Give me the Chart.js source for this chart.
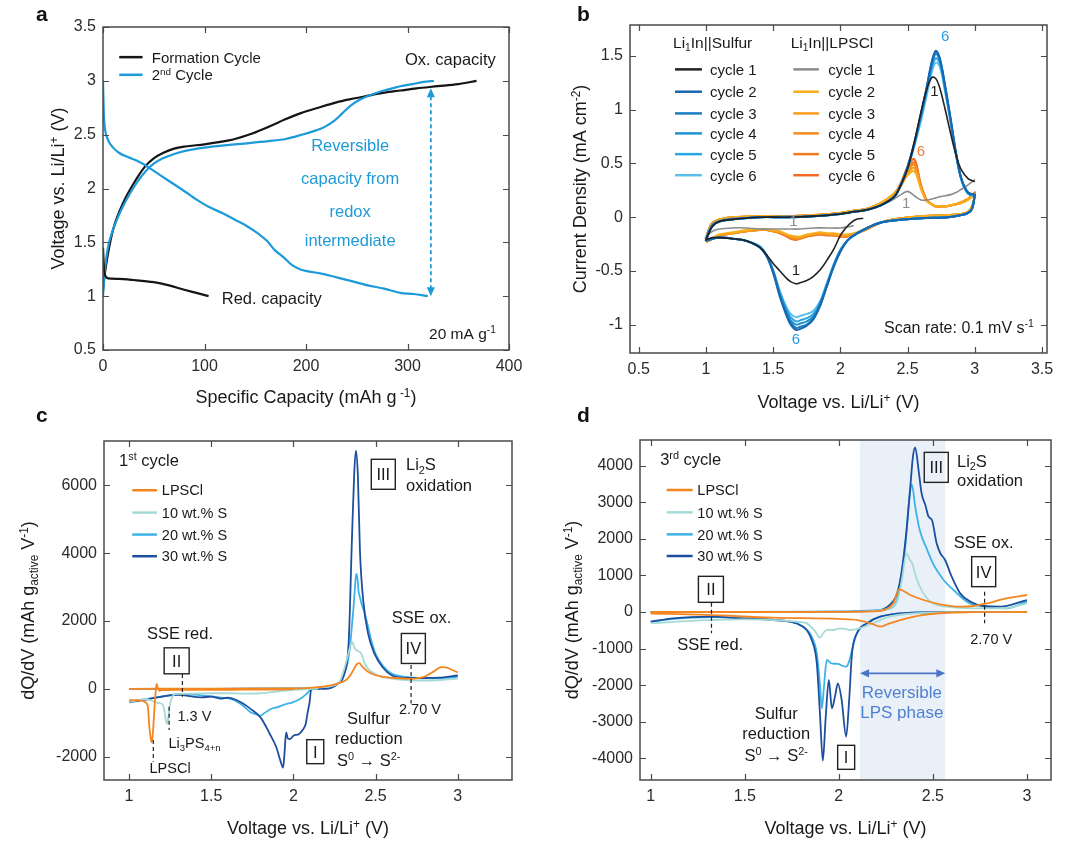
<!DOCTYPE html>
<html>
<head>
<meta charset="utf-8">
<script src="https://cdn.jsdelivr.net/npm/chart.js@4.4.1/dist/chart.umd.min.js"></script>
<style>
  html, body { margin: 0; padding: 0; background: #fff; }
  #fig { position: relative; width: 1080px; height: 849px; overflow: hidden; background: #fff; }
  canvas { position: absolute; }
  .lab { position: absolute; font: bold 21px "Liberation Sans", Arial, sans-serif; color: #111; }
</style>
</head>
<body>
<div id="fig">
  <canvas id="pa" width="540" height="420" style="left:0;top:0"></canvas>
  <canvas id="pb" width="540" height="420" style="left:540px;top:0"></canvas>
  <canvas id="pc" width="540" height="429" style="left:0;top:420px"></canvas>
  <canvas id="pd" width="540" height="429" style="left:540px;top:420px"></canvas>
  <div class="lab" style="left:36px;top:2px">a</div>
  <div class="lab" style="left:577px;top:2px">b</div>
  <div class="lab" style="left:36px;top:403px">c</div>
  <div class="lab" style="left:577px;top:403px">d</div>
</div>
<script>
const F = '"Liberation Sans", Arial, sans-serif';
Chart.defaults.font.family = F;

// ---------- panel a : voltage profiles ----------
const aXTicks = [0, 100, 200, 300, 400];
const aYTicks = [0.5, 1, 1.5, 2, 2.5, 3, 3.5];
const aFormRedCap = [0, 1, 3, 5, 15, 30, 50, 65, 80, 92, 104];
const aFormRedV = [1.45, 1.25, 1.18, 1.165, 1.16, 1.15, 1.13, 1.1, 1.06, 1.03, 1.0];
const aFormOxCap = [0, 2, 5, 10, 20, 33, 42, 50, 59, 70, 81, 100, 114, 130, 147, 165, 179, 195, 212, 230, 244, 260, 277, 293, 309, 330, 350, 368];
const aFormOxV = [1.05, 1.22, 1.4, 1.62, 1.87, 2.09, 2.21, 2.28, 2.33, 2.37, 2.39, 2.41, 2.43, 2.46, 2.51, 2.58, 2.64, 2.7, 2.75, 2.8, 2.83, 2.86, 2.89, 2.91, 2.93, 2.95, 2.97, 3.0];
const aSecOxCap = [0, 1, 3, 6, 10, 15, 20, 27, 33, 42, 50, 59, 70, 81, 100, 130, 163, 180, 196, 210, 218, 228, 236, 244, 252, 261, 270, 277, 285, 293, 305, 316, 326];
const aSecOxV = [1.0, 1.15, 1.34, 1.5, 1.62, 1.74, 1.84, 1.96, 2.05, 2.16, 2.23, 2.28, 2.32, 2.35, 2.38, 2.41, 2.44, 2.46, 2.5, 2.54, 2.57, 2.63, 2.7, 2.77, 2.82, 2.86, 2.89, 2.91, 2.93, 2.95, 2.97, 2.99, 3.0];
const aSecRedCap = [0, 0.5, 1, 2, 5, 10, 16, 25, 33, 41, 49, 57, 65, 81, 95, 104, 118, 130, 142, 153, 162, 169, 178, 186, 194, 202, 215, 228, 245, 261, 277, 293, 306, 320];
const aSecRedV = [3.0, 2.8, 2.66, 2.55, 2.45, 2.38, 2.33, 2.29, 2.26, 2.22, 2.17, 2.12, 2.07, 1.97, 1.88, 1.83, 1.77, 1.71, 1.65, 1.58, 1.51, 1.43, 1.36, 1.29, 1.25, 1.23, 1.21, 1.18, 1.14, 1.1, 1.07, 1.03, 1.02, 1.0];

// ---------- panel b : cyclic voltammetry ----------
const bXTicks = [0.5, 1, 1.5, 2, 2.5, 3, 3.5];
const bYTicks = [-1, -0.5, 0, 0.5, 1, 1.5];
const bAnoV = [1.0, 1.02, 1.05, 1.1, 1.2, 1.4, 1.6, 1.8, 2.0, 2.1, 2.2, 2.3, 2.4, 2.45, 2.5, 2.55, 2.6, 2.64, 2.68, 2.71, 2.74, 2.78, 2.82, 2.86, 2.9, 2.95, 3.0];
const bCathV = [3.0, 2.98, 2.95, 2.9, 2.8, 2.6, 2.4, 2.3, 2.2, 2.1, 2.05, 2.0, 1.95, 1.9, 1.85, 1.8, 1.75, 1.7, 1.67, 1.63, 1.6, 1.55, 1.5, 1.45, 1.4, 1.3, 1.2, 1.1, 1.05, 1.02, 1.0];
const bS1CathV = [2.17, 2.12, 2.08, 2.04, 2.0, 1.95, 1.9, 1.85, 1.8, 1.75, 1.7, 1.67, 1.63, 1.6, 1.55, 1.5, 1.45, 1.4, 1.3, 1.2, 1.1, 1.05, 1.02, 1.0];
const bS1CathI = [-0.01, -0.02, -0.05, -0.1, -0.17, -0.3, -0.4, -0.49, -0.55, -0.59, -0.61, -0.62, -0.6, -0.57, -0.5, -0.43, -0.35, -0.28, -0.22, -0.2, -0.19, -0.19, -0.2, -0.21];
const bS1AnoI = [-0.21, -0.15, -0.08, -0.04, -0.02, 0.0, 0.0, 0.01, 0.03, 0.05, 0.07, 0.11, 0.19, 0.3, 0.45, 0.7, 0.98, 1.18, 1.3, 1.29, 1.2, 1.0, 0.78, 0.58, 0.44, 0.36, 0.33];
const bS2AnoI = [-0.22, -0.15, -0.08, -0.04, -0.02, 0.0, 0.0, 0.01, 0.03, 0.05, 0.07, 0.11, 0.19, 0.3, 0.47, 0.69, 0.97, 1.2, 1.45, 1.55, 1.48, 1.22, 0.92, 0.6, 0.36, 0.23, 0.21];
const bS3AnoI = [-0.22, -0.15, -0.08, -0.04, -0.02, 0.0, 0.0, 0.01, 0.03, 0.05, 0.07, 0.11, 0.19, 0.3, 0.47, 0.69, 0.96, 1.19, 1.44, 1.54, 1.47, 1.21, 0.91, 0.6, 0.36, 0.23, 0.21];
const bS4AnoI = [-0.22, -0.15, -0.08, -0.04, -0.02, 0.0, 0.0, 0.01, 0.03, 0.05, 0.07, 0.11, 0.19, 0.3, 0.46, 0.68, 0.95, 1.18, 1.42, 1.52, 1.46, 1.2, 0.9, 0.59, 0.35, 0.22, 0.2];
const bS5AnoI = [-0.22, -0.15, -0.08, -0.04, -0.02, 0.0, 0.0, 0.01, 0.03, 0.05, 0.07, 0.11, 0.19, 0.3, 0.46, 0.67, 0.93, 1.16, 1.39, 1.48, 1.43, 1.18, 0.89, 0.58, 0.35, 0.22, 0.2];
const bS6AnoI = [-0.22, -0.15, -0.08, -0.04, -0.02, 0.0, 0.0, 0.01, 0.03, 0.05, 0.07, 0.11, 0.19, 0.3, 0.45, 0.66, 0.9, 1.12, 1.35, 1.44, 1.4, 1.16, 0.88, 0.58, 0.35, 0.22, 0.2];
const bS2CathI = [0.21, 0.08, 0.04, 0.02, 0.0, -0.01, -0.03, -0.05, -0.1, -0.17, -0.22, -0.32, -0.46, -0.64, -0.82, -0.95, -1.01, -1.04, -1.05, -1.0, -0.92, -0.74, -0.52, -0.36, -0.28, -0.22, -0.2, -0.19, -0.2, -0.21, -0.22];
const bS3CathI = [0.21, 0.08, 0.04, 0.02, 0.0, -0.01, -0.03, -0.05, -0.1, -0.17, -0.22, -0.32, -0.46, -0.64, -0.82, -0.94, -1.0, -1.02, -1.03, -0.98, -0.9, -0.73, -0.51, -0.36, -0.28, -0.22, -0.2, -0.19, -0.2, -0.21, -0.22];
const bS4CathI = [0.2, 0.08, 0.04, 0.02, 0.0, -0.01, -0.03, -0.05, -0.1, -0.17, -0.22, -0.31, -0.45, -0.63, -0.8, -0.92, -0.97, -0.99, -1.0, -0.96, -0.88, -0.72, -0.5, -0.35, -0.28, -0.22, -0.2, -0.19, -0.2, -0.21, -0.22];
const bS5CathI = [0.2, 0.08, 0.04, 0.02, 0.0, -0.01, -0.03, -0.05, -0.1, -0.17, -0.22, -0.31, -0.45, -0.62, -0.79, -0.9, -0.94, -0.96, -0.97, -0.93, -0.86, -0.7, -0.5, -0.35, -0.27, -0.22, -0.2, -0.19, -0.2, -0.21, -0.22];
const bS6CathI = [0.2, 0.08, 0.04, 0.02, 0.0, -0.01, -0.03, -0.05, -0.1, -0.17, -0.22, -0.3, -0.44, -0.61, -0.78, -0.87, -0.9, -0.92, -0.93, -0.9, -0.84, -0.69, -0.49, -0.35, -0.27, -0.22, -0.2, -0.19, -0.2, -0.21, -0.22];
const bL1CathV = [2.1, 2.0, 1.9, 1.8, 1.7, 1.6, 1.5, 1.4, 1.3, 1.2, 1.1, 1.05, 1.02, 1.0];
const bL1CathI = [-0.08, -0.1, -0.1, -0.1, -0.11, -0.11, -0.11, -0.11, -0.1, -0.1, -0.11, -0.13, -0.16, -0.18];
const bL1AnoI = [-0.18, -0.12, -0.06, -0.03, -0.01, 0.0, 0.01, 0.01, 0.03, 0.05, 0.07, 0.11, 0.17, 0.21, 0.24, 0.2, 0.16, 0.16, 0.17, 0.18, 0.19, 0.2, 0.21, 0.23, 0.26, 0.3, 0.35];
const bL2AnoI = [-0.22, -0.12, -0.05, -0.02, 0.0, 0.01, 0.01, 0.02, 0.04, 0.06, 0.08, 0.13, 0.22, 0.29, 0.39, 0.43, 0.26, 0.15, 0.12, 0.1, 0.1, 0.1, 0.11, 0.12, 0.13, 0.16, 0.21];
const bL3AnoI = [-0.22, -0.12, -0.05, -0.02, 0.0, 0.01, 0.01, 0.02, 0.04, 0.06, 0.08, 0.13, 0.22, 0.3, 0.41, 0.46, 0.27, 0.16, 0.12, 0.1, 0.1, 0.1, 0.11, 0.12, 0.14, 0.17, 0.22];
const bL4AnoI = [-0.22, -0.12, -0.05, -0.02, 0.0, 0.01, 0.01, 0.02, 0.04, 0.06, 0.08, 0.13, 0.22, 0.3, 0.43, 0.49, 0.28, 0.16, 0.12, 0.1, 0.1, 0.1, 0.11, 0.12, 0.14, 0.17, 0.22];
const bL5AnoI = [-0.22, -0.12, -0.05, -0.02, 0.0, 0.01, 0.01, 0.02, 0.04, 0.06, 0.08, 0.13, 0.22, 0.31, 0.45, 0.51, 0.29, 0.16, 0.12, 0.1, 0.1, 0.1, 0.11, 0.12, 0.14, 0.17, 0.23];
const bL6AnoI = [-0.22, -0.12, -0.05, -0.02, 0.0, 0.01, 0.01, 0.02, 0.04, 0.06, 0.08, 0.13, 0.22, 0.32, 0.47, 0.54, 0.3, 0.17, 0.12, 0.1, 0.1, 0.1, 0.11, 0.12, 0.14, 0.17, 0.23];
const bL2CathI = [0.2, 0.1, 0.05, 0.03, 0.02, 0.01, -0.02, -0.05, -0.1, -0.15, -0.16, -0.16, -0.15, -0.15, -0.14, -0.15, -0.16, -0.18, -0.18, -0.17, -0.16, -0.13, -0.12, -0.11, -0.11, -0.12, -0.14, -0.16, -0.19, -0.21, -0.22];
const bL3CathI = [0.2, 0.1, 0.05, 0.03, 0.02, 0.01, -0.02, -0.05, -0.11, -0.16, -0.17, -0.17, -0.16, -0.16, -0.15, -0.16, -0.17, -0.19, -0.19, -0.18, -0.16, -0.14, -0.13, -0.12, -0.12, -0.13, -0.15, -0.17, -0.2, -0.22, -0.23];
const bL4CathI = [0.21, 0.1, 0.05, 0.03, 0.02, 0.01, -0.02, -0.05, -0.11, -0.16, -0.17, -0.17, -0.16, -0.16, -0.15, -0.16, -0.17, -0.19, -0.2, -0.19, -0.17, -0.14, -0.13, -0.12, -0.12, -0.13, -0.15, -0.17, -0.2, -0.22, -0.23];
const bL5CathI = [0.21, 0.1, 0.05, 0.03, 0.02, 0.01, -0.02, -0.05, -0.11, -0.16, -0.18, -0.18, -0.17, -0.16, -0.16, -0.16, -0.18, -0.2, -0.21, -0.2, -0.17, -0.14, -0.13, -0.12, -0.12, -0.13, -0.15, -0.17, -0.2, -0.22, -0.23];
const bL6CathI = [0.22, 0.1, 0.05, 0.03, 0.02, 0.01, -0.02, -0.05, -0.11, -0.16, -0.18, -0.18, -0.17, -0.17, -0.16, -0.17, -0.18, -0.2, -0.21, -0.2, -0.18, -0.15, -0.13, -0.12, -0.12, -0.13, -0.15, -0.17, -0.2, -0.22, -0.23];
const bSulfurColors = ['#222222', '#1767b2', '#1a7cc2', '#1f92d2', '#28a8e2', '#5cc0ef'];
const bLpsclColors = ['#8c8c8c', '#f8ad1c', '#f79c1d', '#f58a1f', '#f37a20', '#f16a22'];
const bCycleLabels = ['cycle 1', 'cycle 2', 'cycle 3', 'cycle 4', 'cycle 5', 'cycle 6'];

// ---------- panels c, d : dQ/dV ----------
const cdSeries = ['LPSCl', '10 wt.% S', '20 wt.% S', '30 wt.% S'];
const cdColors = ['#f5861f', '#a6dad6', '#3cb2e8', '#1d4f9e'];
const cXTicks = [1, 1.5, 2, 2.5, 3];
const cYTicks = [-2000, 0, 2000, 4000, 6000];
const cLpsRedV = [1.0, 1.04, 1.07, 1.1, 1.115, 1.124, 1.132, 1.138, 1.145, 1.152, 1.158, 1.163, 1.168, 1.173, 1.178, 1.185, 1.2, 1.3, 1.5, 1.7, 1.9, 2.0];
const cLpsRedQ = [-340, -330, -345, -395, -540, -1130, -1450, -1580, -1330, -800, -345, -50, 148, 60, 0, -60, -40, -30, -30, -25, -20, -10];
const cLpsOxV = [1.0, 1.5, 2.0, 2.1, 2.2, 2.26, 2.3, 2.33, 2.35, 2.37, 2.38, 2.39, 2.4, 2.42, 2.45, 2.5, 2.55, 2.6, 2.7, 2.75, 2.8, 2.85, 2.9, 2.93, 2.96, 3.0];
const cLpsOxQ = [0, 5, 10, 30, 80, 147, 200, 300, 430, 600, 690, 740, 755, 650, 520, 400, 350, 324, 295, 310, 363, 500, 638, 630, 570, 480];
const c10RedV = [1.0, 1.05, 1.1, 1.15, 1.18, 1.2, 1.21, 1.22, 1.228, 1.233, 1.24, 1.25, 1.26, 1.27, 1.3, 1.4, 1.5, 1.6, 1.7, 1.8, 1.9, 2.0, 2.1, 2.15];
const c10RedQ = [-390, -340, -300, -370, -420, -440, -520, -800, -1000, -1030, -820, -450, -280, -180, -150, -140, -130, -130, -140, -130, -80, -30, -5, 0];
const c10OxV = [1.0, 1.5, 2.0, 2.2, 2.28, 2.31, 2.33, 2.345, 2.356, 2.365, 2.375, 2.39, 2.41, 2.435, 2.465, 2.52, 2.6, 2.7, 2.8, 2.9, 3.0];
const c10OxQ = [0, 0, 10, 60, 200, 600, 950, 1230, 1390, 1300, 1180, 1120, 1060, 740, 540, 390, 300, 250, 240, 260, 300];
const c20RedV = [1.0, 1.07, 1.17, 1.27, 1.31, 1.46, 1.56, 1.62, 1.68, 1.74, 1.78, 1.8, 1.82, 1.86, 1.9, 1.95, 2.0, 2.04, 2.075, 2.1, 2.12];
const c20RedQ = [-395, -325, -250, -170, -150, -200, -260, -300, -445, -690, -760, -790, -730, -600, -545, -460, -390, -300, -170, -50, 0];
const c20OxV = [1.0, 1.5, 2.0, 2.2, 2.27, 2.317, 2.335, 2.346, 2.356, 2.366, 2.375, 2.382, 2.39, 2.396, 2.405, 2.415, 2.435, 2.455, 2.474, 2.5, 2.543, 2.6, 2.67, 2.75, 2.85, 2.95, 3.0];
const c20OxQ = [0, 0, 10, 60, 150, 540, 900, 1325, 1850, 2400, 3000, 3386, 3250, 2895, 2700, 2500, 2208, 1815, 1423, 1030, 687, 441, 363, 320, 310, 330, 360];
const c30RedV = [1.0, 1.1, 1.17, 1.3, 1.44, 1.5, 1.56, 1.6, 1.66, 1.74, 1.8, 1.857, 1.897, 1.92, 1.938, 1.946, 1.956, 1.966, 1.98, 2.0, 2.035, 2.056, 2.075, 2.086, 2.1, 2.107, 2.12, 2.16];
const c30RedQ = [-395, -320, -250, -180, -250, -230, -290, -260, -345, -590, -840, -1330, -1730, -2100, -2320, -1900, -1284, -1460, -1480, -1380, -1330, -1214, -1037, -723, -345, -40, -10, 0];
const c30OxV = [1.0, 1.5, 2.0, 2.19, 2.27, 2.31, 2.337, 2.356, 2.37, 2.38, 2.392, 2.405, 2.425, 2.455, 2.494, 2.543, 2.6, 2.67, 2.78, 2.88, 3.0];
const c30OxQ = [0, 0, 5, 0, 147, 440, 1423, 4368, 6330, 7018, 6330, 4073, 2600, 1620, 1030, 638, 393, 324, 320, 330, 393];

const dXTicks = [1, 1.5, 2, 2.5, 3];
const dYTicks = [-4000, -3000, -2000, -1000, 0, 1000, 2000, 3000, 4000];
const dLpsRedV = [1.0, 1.3, 1.65, 2.0, 2.1, 2.17, 2.22, 2.27, 2.36, 2.45, 2.57, 2.7, 3.0];
const dLpsRedQ = [-40, -80, -155, -190, -220, -310, -400, -310, -173, -80, -20, -5, 0];
const dLpsOxV = [1.0, 1.5, 2.0, 2.18, 2.25, 2.29, 2.32, 2.38, 2.45, 2.54, 2.645, 2.716, 2.787, 2.89, 3.0];
const dLpsOxQ = [0, 0, 5, 18, 73, 237, 620, 465, 328, 210, 146, 164, 237, 374, 465];
const d10RedV = [1.0, 1.3, 1.5, 1.65, 1.8, 1.83, 1.87, 1.9, 1.92, 1.94, 1.97, 2.007, 2.04, 2.06, 2.11, 2.18, 2.27, 2.4, 2.6, 3.0];
const d10RedQ = [-310, -220, -200, -220, -280, -310, -500, -700, -560, -480, -492, -446, -470, -492, -446, -310, -128, -40, -5, 0];
const d10OxV = [1.0, 1.5, 2.0, 2.2, 2.28, 2.31, 2.335, 2.36, 2.378, 2.39, 2.41, 2.45, 2.5, 2.574, 2.716, 2.89, 3.0];
const d10OxQ = [0, 0, 10, 40, 130, 282, 875, 1604, 1422, 1330, 966, 510, 237, 146, 100, 110, 237];
const d20RedV = [1.0, 1.12, 1.32, 1.475, 1.65, 1.81, 1.856, 1.883, 1.9, 1.91, 1.92, 1.936, 1.96, 1.995, 2.02, 2.039, 2.055, 2.07, 2.096, 2.149, 2.22, 2.35, 2.6, 3.0];
const d20RedQ = [-270, -190, -140, -160, -210, -400, -674, -1130, -2000, -2633, -2100, -1312, -1403, -1420, -1470, -1494, -1350, -1039, -583, -310, -128, -30, -5, 0];
const d20OxV = [1.0, 1.5, 2.0, 2.2, 2.29, 2.326, 2.353, 2.376, 2.388, 2.406, 2.43, 2.47, 2.5, 2.557, 2.61, 2.68, 2.77, 2.89, 3.0];
const d20OxQ = [0, 0, 10, 50, 146, 690, 1786, 3153, 3490, 2880, 2241, 1695, 1330, 875, 601, 282, 146, 100, 282];
const d30RedV = [1.0, 1.12, 1.32, 1.475, 1.65, 1.81, 1.856, 1.883, 1.9, 1.915, 1.93, 1.947, 1.963, 1.98, 1.995, 2.015, 2.039, 2.055, 2.07, 2.096, 2.149, 2.22, 2.35, 2.6, 3.0];
const d30RedQ = [-264, -173, -128, -173, -220, -400, -765, -1403, -2800, -4064, -2900, -1859, -2633, -2300, -1950, -2400, -3408, -2400, -1130, -583, -310, -128, -30, -5, 0];
const d30OxV = [1.0, 1.5, 2.0, 2.18, 2.27, 2.31, 2.335, 2.36, 2.38, 2.394, 2.406, 2.424, 2.44, 2.46, 2.477, 2.495, 2.52, 2.54, 2.565, 2.6, 2.645, 2.7, 2.77, 2.86, 3.0];
const d30OxQ = [0, 0, 10, 30, 190, 510, 1148, 2241, 3426, 4246, 4500, 3881, 3244, 2925, 2606, 2515, 1877, 1604, 1421, 966, 510, 282, 164, 146, 328];
const dBand = [2.113, 2.566];

// ---------- drawing helpers ----------
function pts(xs, ys) { return xs.map((v, i) => ({ x: v, y: ys[i] })); }

function series(label, xs, ys, color, extra) {
  return Object.assign({
    label: label, data: pts(xs, ys), borderColor: color, backgroundColor: color,
    borderWidth: 2, pointRadius: 0, showLine: true, fill: false
  }, extra || {});
}

function partFont(p, size, bold) {
  const s = p[1] === 'n' ? size : size * 0.66;
  return (bold ? 'bold ' : '') + s.toFixed(1) + 'px ' + F;
}

// parts: string or [[text, 'n'|'sup'|'sub'], ...]; y is the visual middle
function rich(ctx, parts, x, y, size, opts) {
  opts = opts || {};
  if (typeof parts === 'string') parts = [[parts, 'n']];
  ctx.save();
  ctx.fillStyle = opts.color || '#1a1a1a';
  ctx.textBaseline = 'alphabetic';
  ctx.textAlign = 'left';
  const w = parts.map(p => { ctx.font = partFont(p, size, opts.bold); return ctx.measureText(p[0]).width; });
  const total = w.reduce((s, v) => s + v, 0);
  ctx.translate(x, y);
  if (opts.rotate) ctx.rotate(opts.rotate);
  let cx = opts.align === 'center' ? -total / 2 : opts.align === 'right' ? -total : 0;
  parts.forEach((p, i) => {
    ctx.font = partFont(p, size, opts.bold);
    const dy = p[1] === 'sup' ? -size * 0.36 : p[1] === 'sub' ? size * 0.2 : 0;
    ctx.fillText(p[0], cx, size * 0.36 + dy);
    cx += w[i];
  });
  ctx.restore();
}

function px(c, v) { return c.scales.x.getPixelForValue(v); }
function py(c, q) { return c.scales.y.getPixelForValue(q); }
function txt(c, v, q, parts, size, opts) { rich(c.ctx, parts, px(c, v), py(c, q), size, opts); }

function dashV(c, v, q1, q2, color) {
  const ctx = c.ctx;
  ctx.save();
  ctx.strokeStyle = color || '#222'; ctx.lineWidth = 1.2; ctx.setLineDash([4, 3]);
  ctx.beginPath(); ctx.moveTo(px(c, v), py(c, q1)); ctx.lineTo(px(c, v), py(c, q2)); ctx.stroke();
  ctx.restore();
}

function boxed(c, v, q, label, w, h) {
  const ctx = c.ctx, x = px(c, v), y = py(c, q);
  ctx.save();
  ctx.strokeStyle = '#222'; ctx.lineWidth = 1.4;
  ctx.strokeRect(x - w / 2, y - h / 2, w, h);
  ctx.restore();
  rich(ctx, label, x, y, 16.5, { align: 'center' });
}

function head(ctx, x, y, ang, size, color) {
  ctx.save();
  ctx.translate(x, y); ctx.rotate(ang);
  ctx.fillStyle = color;
  ctx.beginPath(); ctx.moveTo(0, 0); ctx.lineTo(-size, -size * 0.45); ctx.lineTo(-size, size * 0.45); ctx.closePath(); ctx.fill();
  ctx.restore();
}

function legendLine(c, v1, v2, q, color, lw) {
  const ctx = c.ctx;
  ctx.save();
  ctx.strokeStyle = color; ctx.lineWidth = lw || 2.5;
  ctx.beginPath(); ctx.moveTo(px(c, v1), py(c, q)); ctx.lineTo(px(c, v2), py(c, q)); ctx.stroke();
  ctx.restore();
}

function frame(c) {
  const ctx = c.ctx, a = c.chartArea, sx = c.scales.x, sy = c.scales.y;
  ctx.save();
  ctx.strokeStyle = '#4a4a4a'; ctx.lineWidth = 1.2;
  ctx.beginPath();
  sx.ticks.forEach(t => {
    const x = Math.round(sx.getPixelForValue(t.value)) + 0.5;
    ctx.moveTo(x, a.bottom); ctx.lineTo(x, a.bottom - 6);
    ctx.moveTo(x, a.top); ctx.lineTo(x, a.top + 6);
  });
  sy.ticks.forEach(t => {
    const y = Math.round(sy.getPixelForValue(t.value)) + 0.5;
    ctx.moveTo(a.left, y); ctx.lineTo(a.left + 6, y);
    ctx.moveTo(a.right, y); ctx.lineTo(a.right - 6, y);
  });
  ctx.stroke();
  ctx.lineWidth = 1.5;
  ctx.strokeRect(a.left, a.top, a.right - a.left, a.bottom - a.top);
  ctx.restore();
}

function titles(c, xParts, yParts, xOff, yOff) {
  const a = c.chartArea;
  rich(c.ctx, xParts, (a.left + a.right) / 2, a.bottom + xOff, 18, { align: 'center' });
  rich(c.ctx, yParts, a.left - yOff, (a.top + a.bottom) / 2, 18, { align: 'center', rotate: -Math.PI / 2 });
}

function makeChart(id, datasets, xr, xt, yr, yt, pad, yW, xH, draw, under) {
  const tickStyle = { padding: 7, color: '#2b2b2b', font: { family: F, size: 16 }, callback: v => String(v), maxRotation: 0, autoSkip: false };
  return new Chart(document.getElementById(id), {
    type: 'scatter',
    data: { datasets: datasets },
    options: {
      responsive: false, animation: false, events: [],
      layout: { padding: pad },
      plugins: { legend: { display: false }, tooltip: { enabled: false } },
      scales: {
        x: {
          type: 'linear', min: xr[0], max: xr[1],
          afterBuildTicks: s => { s.ticks = xt.map(v => ({ value: v })); },
          afterFit: s => { s.height = xH; },
          grid: { display: false, drawTicks: false }, border: { display: false }, ticks: tickStyle
        },
        y: {
          type: 'linear', min: yr[0], max: yr[1],
          afterBuildTicks: s => { s.ticks = yt.map(v => ({ value: v })); },
          afterFit: s => { s.width = yW; },
          grid: { display: false, drawTicks: false }, border: { display: false }, ticks: tickStyle
        }
      }
    },
    plugins: [{
      id: 'deco',
      beforeDatasetsDraw: c => { if (under) under(c); },
      afterDatasetsDraw: c => { frame(c); draw(c); }
    }]
  });
}

const VOLT_X = [['Voltage vs. Li/Li', 'n'], ['+', 'sup'], [' (V)', 'n']];
const DQDV_Y = [['dQ/dV (mAh g', 'n'], ['active', 'sub'], [' V', 'n'], ['-1', 'sup'], [')', 'n']];

// ---------- a ----------
const aBlack = '#151515', aBlue = '#1d9ad8';
makeChart('pa', [
  series('Formation Cycle', aFormRedCap, aFormRedV, aBlack, { borderWidth: 2.2, cubicInterpolationMode: 'monotone' }),
  series('2nd Cycle', aSecRedCap, aSecRedV, aBlue, { borderWidth: 2.2, cubicInterpolationMode: 'monotone' }),
  series('2nd Cycle', aSecOxCap, aSecOxV, aBlue, { borderWidth: 2.2, cubicInterpolationMode: 'monotone' }),
  series('Formation Cycle', aFormOxCap, aFormOxV, aBlack, { borderWidth: 2.2, cubicInterpolationMode: 'monotone' })
], [0, 400], aXTicks, [0.5, 3.5], aYTicks, { left: 0, right: 31, top: 27, bottom: 0 }, 103, 70, c => {
  const ctx = c.ctx;
  // double arrow for the reversible capacity
  const x = px(c, 323), y1 = py(c, 2.93), y2 = py(c, 1.0);
  ctx.save();
  ctx.strokeStyle = aBlue; ctx.lineWidth = 1.8; ctx.setLineDash([4, 3]);
  ctx.beginPath(); ctx.moveTo(x, y1 + 8); ctx.lineTo(x, y2 - 8); ctx.stroke();
  ctx.restore();
  head(ctx, x, y1, -Math.PI / 2, 9, aBlue);
  head(ctx, x, y2, Math.PI / 2, 9, aBlue);
  // legend
  legendLine(c, 16, 39, 3.22, aBlack, 2.5);
  legendLine(c, 16, 39, 3.056, aBlue, 2.5);
  txt(c, 48, 3.22, 'Formation Cycle', 15);
  txt(c, 48, 3.056, [['2', 'n'], ['nd', 'sup'], [' Cycle', 'n']], 15);
  txt(c, 387, 3.2, 'Ox. capacity', 16.5, { align: 'right' });
  txt(c, 117, 0.98, 'Red. capacity', 16.5);
  txt(c, 243.5, 2.40, 'Reversible', 16.5, { align: 'center', color: aBlue });
  txt(c, 243.5, 2.096, 'capacity from', 16.5, { align: 'center', color: aBlue });
  txt(c, 243.5, 1.79, 'redox', 16.5, { align: 'center', color: aBlue });
  txt(c, 243.5, 1.52, 'intermediate', 16.5, { align: 'center', color: aBlue });
  txt(c, 387, 0.655, [['20 mA g', 'n'], ['-1', 'sup']], 15.5, { align: 'right' });
  titles(c, [['Specific Capacity (mAh g', 'n'], [' -1', 'sup'], [')', 'n']], [['Voltage vs. Li/Li', 'n'], ['+', 'sup'], [' (V)', 'n']], 47, 45);
});

// ---------- b ----------
const bLoop = { borderWidth: 2, tension: 0.35 };
makeChart('pb', [
  series(bCycleLabels[0], bS1CathV.concat(bAnoV), bS1CathI.concat(bS1AnoI), bSulfurColors[0], { borderWidth: 1.6, tension: 0.35 }),
  series(bCycleLabels[1], bAnoV.concat(bCathV), bS2AnoI.concat(bS2CathI), bSulfurColors[1], bLoop),
  series(bCycleLabels[2], bAnoV.concat(bCathV), bS3AnoI.concat(bS3CathI), bSulfurColors[2], bLoop),
  series(bCycleLabels[3], bAnoV.concat(bCathV), bS4AnoI.concat(bS4CathI), bSulfurColors[3], bLoop),
  series(bCycleLabels[4], bAnoV.concat(bCathV), bS5AnoI.concat(bS5CathI), bSulfurColors[4], bLoop),
  series(bCycleLabels[5], bAnoV.concat(bCathV), bS6AnoI.concat(bS6CathI), bSulfurColors[5], bLoop),
  series(bCycleLabels[0], bL1CathV.concat(bAnoV), bL1CathI.concat(bL1AnoI), bLpsclColors[0], { borderWidth: 1.6, tension: 0.35 }),
  series(bCycleLabels[1], bAnoV.concat(bCathV), bL2AnoI.concat(bL2CathI), bLpsclColors[1], bLoop),
  series(bCycleLabels[2], bAnoV.concat(bCathV), bL3AnoI.concat(bL3CathI), bLpsclColors[2], bLoop),
  series(bCycleLabels[3], bAnoV.concat(bCathV), bL4AnoI.concat(bL4CathI), bLpsclColors[3], bLoop),
  series(bCycleLabels[4], bAnoV.concat(bCathV), bL5AnoI.concat(bL5CathI), bLpsclColors[4], bLoop),
  series(bCycleLabels[5], bAnoV.concat(bCathV), bL6AnoI.concat(bL6CathI), bLpsclColors[5], bLoop)
], [0.435, 3.537], bXTicks, [-1.264, 1.789], bYTicks, { left: 0, right: 33, top: 25, bottom: 0 }, 90, 67, c => {
  txt(c, 0.755, 1.63, [['Li', 'n'], ['1', 'sub'], ['In||Sulfur', 'n']], 15.5);
  txt(c, 1.63, 1.63, [['Li', 'n'], ['1', 'sub'], ['In||LPSCl', 'n']], 15.5);
  const rows = [1.376, 1.168, 0.966, 0.78, 0.587, 0.391];
  rows.forEach((q, i) => {
    legendLine(c, 0.77, 0.97, q, bSulfurColors[i], 2.5);
    txt(c, 1.03, q, bCycleLabels[i], 15);
    legendLine(c, 1.65, 1.84, q, bLpsclColors[i], 2.5);
    txt(c, 1.91, q, bCycleLabels[i], 15);
  });
  txt(c, 2.78, 1.69, '6', 15, { align: 'center', color: '#2a9be0' });
  txt(c, 2.70, 1.18, '1', 15, { align: 'center', color: '#222' });
  txt(c, 2.6, 0.62, '6', 15, { align: 'center', color: '#f47a3c' });
  txt(c, 2.49, 0.14, '1', 15, { align: 'center', color: '#8c8c8c' });
  txt(c, 1.65, -0.03, '1', 15, { align: 'center', color: '#8c8c8c' });
  txt(c, 1.67, -0.49, '1', 15, { align: 'center', color: '#222' });
  txt(c, 1.67, -1.13, '6', 15, { align: 'center', color: '#2a9be0' });
  txt(c, 3.44, -1.02, [['Scan rate: 0.1 mV s', 'n'], ['-1', 'sup']], 16, { align: 'right' });
  titles(c, VOLT_X, [['Current Density (mA cm', 'n'], ['-2', 'sup'], [')', 'n']], 49, 50);
});

// ---------- c ----------
const cdOpt = { borderWidth: 1.8, cubicInterpolationMode: 'monotone' };
function cdLegend(c, v1, v2, vt, rows) {
  rows.forEach((q, i) => {
    legendLine(c, v1, v2, q, cdColors[i], 2.5);
    txt(c, vt, q, cdSeries[i], 14.5);
  });
}
makeChart('pc', [
  series(cdSeries[0], cLpsRedV, cLpsRedQ, cdColors[0], cdOpt),
  series(cdSeries[0], cLpsOxV, cLpsOxQ, cdColors[0], cdOpt),
  series(cdSeries[1], c10RedV, c10RedQ, cdColors[1], cdOpt),
  series(cdSeries[1], c10OxV, c10OxQ, cdColors[1], cdOpt),
  series(cdSeries[3], c30RedV, c30RedQ, cdColors[3], cdOpt),
  series(cdSeries[3], c30OxV, c30OxQ, cdColors[3], cdOpt),
  series(cdSeries[2], c20RedV, c20RedQ, cdColors[2], cdOpt),
  series(cdSeries[2], c20OxV, c20OxQ, cdColors[2], cdOpt)
], [0.848, 3.33], cXTicks, [-2687, 7305], cYTicks, { left: 0, right: 28, top: 21, bottom: 0 }, 104, 69, c => {
  txt(c, 0.94, 6736, [['1', 'n'], ['st', 'sup'], [' cycle', 'n']], 16.5);
  cdLegend(c, 1.02, 1.17, 1.2, [5853, 5195, 4547, 3909]);
  boxed(c, 2.547, 6324, 'III', 24, 30);
  txt(c, 2.685, 6618, [['Li', 'n'], ['2', 'sub'], ['S', 'n']], 16.5);
  txt(c, 2.685, 6020, 'oxidation', 16.5);
  txt(c, 2.78, 2104, 'SSE ox.', 16.5, { align: 'center' });
  boxed(c, 2.73, 1190, 'IV', 24, 30);
  dashV(c, 2.716, 700, -430);
  txt(c, 2.77, -590, '2.70 V', 14.5, { align: 'center' });
  txt(c, 1.31, 1632, 'SSE red.', 16.5, { align: 'center' });
  boxed(c, 1.29, 826, 'II', 25, 26);
  dashV(c, 1.325, 440, -230);
  txt(c, 1.295, -800, '1.3 V', 14.5);
  dashV(c, 1.244, -530, -1210);
  txt(c, 1.24, -1590, [['Li', 'n'], ['3', 'sub'], ['PS', 'n'], ['4+n', 'sub']], 14.5);
  dashV(c, 1.148, -1510, -2150);
  txt(c, 1.25, -2320, 'LPSCl', 14.5, { align: 'center' });
  boxed(c, 2.133, -1852, 'I', 17, 24);
  txt(c, 2.458, -851, 'Sulfur', 16.5, { align: 'center' });
  txt(c, 2.458, -1460, 'reduction', 16.5, { align: 'center' });
  txt(c, 2.458, -2097, [['S', 'n'], ['0', 'sup'], [' \u2192 S', 'n'], ['2-', 'sup']], 16.5, { align: 'center' });
  titles(c, VOLT_X, DQDV_Y, 48, 76);
});

// ---------- d ----------
makeChart('pd', [
  series(cdSeries[0], dLpsRedV, dLpsRedQ, cdColors[0], cdOpt),
  series(cdSeries[0], dLpsOxV, dLpsOxQ, cdColors[0], cdOpt),
  series(cdSeries[1], d10RedV, d10RedQ, cdColors[1], cdOpt),
  series(cdSeries[1], d10OxV, d10OxQ, cdColors[1], cdOpt),
  series(cdSeries[3], d30RedV, d30RedQ, cdColors[3], cdOpt),
  series(cdSeries[3], d30OxV, d30OxQ, cdColors[3], cdOpt),
  series(cdSeries[2], d20RedV, d20RedQ, cdColors[2], cdOpt),
  series(cdSeries[2], d20OxV, d20OxQ, cdColors[2], cdOpt)
], [0.943, 3.128], dXTicks, [-4592, 4702], dYTicks, { left: 0, right: 29, top: 20, bottom: 0 }, 100, 69, c => {
  txt(c, 1.05, 4173, [['3', 'n'], ['rd', 'sup'], [' cycle', 'n']], 16.5);
  cdLegend(c, 1.085, 1.223, 1.248, [3335, 2724, 2123, 1531]);
  boxed(c, 2.518, 3954, 'III', 24, 30);
  txt(c, 2.628, 4137, [['Li', 'n'], ['2', 'sub'], ['S', 'n']], 16.5);
  txt(c, 2.628, 3608, 'oxidation', 16.5);
  txt(c, 2.77, 1923, 'SSE ox.', 16.5, { align: 'center' });
  boxed(c, 2.77, 1103, 'IV', 24, 30);
  dashV(c, 2.775, 556, -310);
  txt(c, 2.81, -720, '2.70 V', 14.5, { align: 'center' });
  boxed(c, 1.32, 620, 'II', 25, 26);
  dashV(c, 1.323, 255, -583);
  txt(c, 1.316, -875, 'SSE red.', 16.5, { align: 'center' });
  txt(c, 1.667, -2770, 'Sulfur', 16.5, { align: 'center' });
  txt(c, 1.667, -3317, 'reduction', 16.5, { align: 'center' });
  txt(c, 1.667, -3909, [['S', 'n'], ['0', 'sup'], [' \u2192 S', 'n'], ['2-', 'sup']], 16.5, { align: 'center' });
  boxed(c, 2.039, -3972, 'I', 17, 24);
  // reversible LPS phase arrow
  const ctx = c.ctx, ay = py(c, -1677), ax1 = px(c, dBand[0]), ax2 = px(c, dBand[1]);
  const arrowBlue = '#4a74c8';
  ctx.save();
  ctx.strokeStyle = arrowBlue; ctx.lineWidth = 1.6;
  ctx.beginPath(); ctx.moveTo(ax1 + 6, ay); ctx.lineTo(ax2 - 6, ay); ctx.stroke();
  ctx.restore();
  head(ctx, ax1, ay, Math.PI, 9, arrowBlue);
  head(ctx, ax2, ay, 0, 9, arrowBlue);
  txt(c, 2.335, -2178, 'Reversible', 17, { align: 'center', color: '#4f7fd0' });
  txt(c, 2.335, -2724, 'LPS phase', 17, { align: 'center', color: '#4f7fd0' });
  titles(c, VOLT_X, DQDV_Y, 48, 68);
}, c => {
  const a = c.chartArea, ctx = c.ctx;
  ctx.save();
  ctx.fillStyle = '#eaf0f8';
  ctx.fillRect(px(c, dBand[0]), a.top, px(c, dBand[1]) - px(c, dBand[0]), a.bottom - a.top);
  ctx.restore();
});
</script>
</body>
</html>
